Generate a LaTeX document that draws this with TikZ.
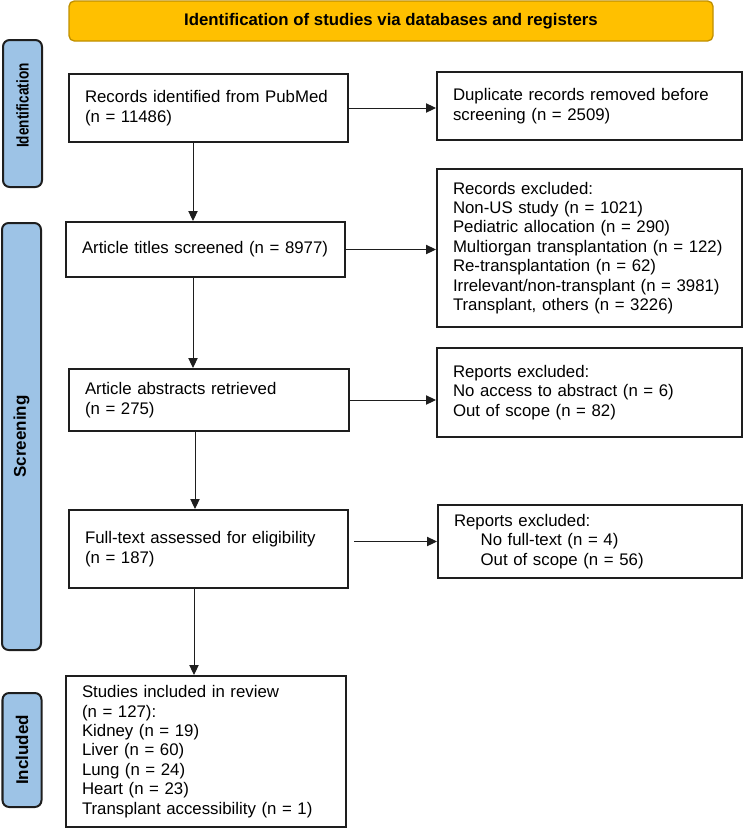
\documentclass[tikz,border=0pt]{standalone}
\usepackage{fontspec}
\setmainfont{Liberation Sans}
\usetikzlibrary{arrows.meta}
\definecolor{bannerfill}{HTML}{FFC000}
\definecolor{bannerline}{HTML}{C09000}
\definecolor{sidefill}{HTML}{9DC3E6}
\definecolor{boxline}{HTML}{1E1E1E}
\begin{document}
\begin{tikzpicture}[x=0.75pt,y=-0.75pt,
  stepbox/.style={draw=boxline, line width=1.5pt, fill=white, align=left,
    inner xsep=12pt, inner ysep=0pt, font=\fontsize{12.6}{14.55}\selectfont},
  sidebox/.style={draw=boxline, line width=1.5pt, fill=sidefill, rounded corners=5pt,
    rotate=90, inner sep=0pt, minimum height=29.25pt,
    font=\bfseries\fontsize{12.75}{14}\selectfont},
  banner/.style={draw=bannerline, line width=1pt, fill=bannerfill, rounded corners=4pt,
    minimum width=483pt, minimum height=30pt, inner sep=0pt,
    font=\bfseries\fontsize{12.6}{14.55}\selectfont},
  arr/.style={-{Triangle[length=7.5pt,width=7pt]}, line width=0.75pt, draw=boxline}]
\useasboundingbox (0,0) rectangle (744,829);

% banner
\node[banner] (ban) at (391,21) {Identification of studies via databases and registers};

% side labels
\node[sidebox, minimum width=110.25pt] (ident) at (22.5,113.5)
  {\hspace*{12pt}\scalebox{0.8}[1]{Identification}};
\node[sidebox, minimum width=320.25pt] (screen) at (21.5,436.5) {Screening};
\node[sidebox, minimum width=85.5pt] (incl) at (22,750) {Included};

% boxes
\node[stepbox, text width=185.25pt, minimum height=51pt] (rec) at (208.5,108)
  {Records identified from PubMed\\(n = 11486)};
\node[stepbox, text width=204.75pt, minimum height=51pt] (dup) at (589.5,106)
  {Duplicate records removed before\\screening (n = 2509)};
\node[stepbox, text width=185.25pt, minimum height=41.25pt] (titles) at (205.5,249.5)
  {Article titles screened (n = 8977)};
\node[stepbox, text width=204.75pt, minimum height=118.5pt] (recex) at (589.5,248)
  {Records excluded:\\Non-US study (n = 1021)\\Pediatric allocation (n = 290)\\Multiorgan transplantation (n = 122)\\Re-transplantation (n = 62)\\Irrelevant/non-transplant (n = 3981)\\Transplant, others (n = 3226)};
\node[stepbox, text width=186pt, minimum height=46.5pt] (abs) at (209,400)
  {Article abstracts retrieved\\(n = 275)};
\node[stepbox, text width=204.75pt, minimum height=66.75pt] (repexa) at (589.5,392.5)
  {Reports excluded:\\No access to abstract (n = 6)\\Out of scope (n = 82)};
\node[stepbox, text width=185.25pt, minimum height=58.5pt] (full) at (208.5,549)
  {Full-text assessed for eligibility\\(n = 187)};
\node[stepbox, text width=204pt, minimum height=54.75pt] (repexb) at (590,541.5)
  {Reports excluded:\\\hspace*{20pt}No full-text (n = 4)\\\hspace*{20pt}Out of scope (n = 56)};
\node[stepbox, text width=186pt, minimum height=113.25pt] (stud) at (206,751.5)
  {Studies included in review\\(n = 127):\\Kidney (n = 19)\\Liver (n = 60)\\Lung (n = 24)\\Heart (n = 23)\\Transplant accessibility (n = 1)};

% connectors
\coordinate (colA) at (193,0);
\coordinate (colB) at (195,0);
\coordinate (colC) at (194,0);
\coordinate (fe) at ([xshift=3.75pt]full.east);
\draw[arr] (rec.east) -- (rec.east -| dup.west);
\draw[arr] (rec.south -| colA) -- (titles.north -| colA);
\draw[arr] (titles.east) -- (titles.east -| recex.west);
\draw[arr] (titles.south -| colA) -- (abs.north -| colA);
\draw[arr] (abs.east) -- (abs.east -| repexa.west);
\draw[arr] (abs.south -| colB) -- (full.north -| colB);
\draw[arr] (fe |- repexb.west) -- (repexb.west);
\draw[arr] (full.south -| colC) -- (stud.north -| colC);
\end{tikzpicture}
\end{document}
